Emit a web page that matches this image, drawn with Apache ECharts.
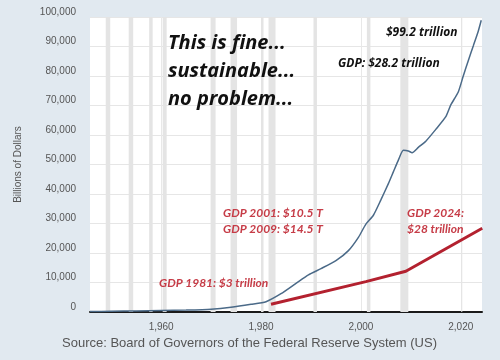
<!DOCTYPE html>
<html>
<head>
<meta charset="utf-8">
<script src="https://cdn.jsdelivr.net/npm/echarts@6/dist/echarts.min.js"></script>
<style>
html,body{margin:0;padding:0;background:#e1e9f0;}
#c{width:500px;height:360px;}
</style>
</head>
<body>
<div id="c"></div>
<script>
// Total debt (billions of dollars)
const debtYears = [1945.75, 1950, 1955, 1960, 1965, 1970, 1974, 1978, 1981, 1984, 1987, 1989.5, 1992, 1995, 1997.5, 1999.5, 2001, 2002.5, 2004, 2005.5, 2006.5, 2007.5, 2008.5, 2009.5, 2010.25, 2011.5, 2013, 2015, 2017, 2018, 2019.5, 2020.5, 2021.5, 2022.5, 2023.5, 2024.1];
const debtValues = [150, 250, 350, 480, 650, 950, 1600, 2600, 3500, 6200, 9700, 12600, 14700, 17400, 20800, 25300, 29800, 32800, 38000, 43500, 47500, 51500, 54800, 54600, 54000, 55800, 57900, 61900, 66200, 70200, 74600, 80000, 85200, 90200, 95200, 98900];
// Hand-drawn GDP line
const gdpYears = [1982, 2001, 2009, 2024.3];
const gdpValues = [2600, 10300, 13800, 28400];
// Recessions (start, end)
const recessions = [[1948.9,1949.8],[1953.5,1954.4],[1957.6,1958.3],[1960.3,1961.1],[1969.9,1970.9],[1973.9,1975.2],[1980.0,1980.5],[1981.5,1982.9],[1990.5,1991.2],[2001.2,2001.9],[2007.9,2009.5],[2020.1,2020.3]];
const xTicks = [1960, 1980, 2000, 2020];

const chart = echarts.init(document.getElementById('c'), null, {renderer:'canvas'});
const blk = {fontFamily:'Open Sans', fontStyle:'italic', fontWeight:'bold'};
const red = {fontFamily:'Lato', fontStyle:'italic', fontWeight:'bold'};
chart.setOption({
  backgroundColor:'#e1e9f0',
  animation:false,
  grid:{left:90, right:18, top:17, bottom:48, show:true, backgroundColor:'#ffffff', borderWidth:0},
  xAxis:{
    type:'value', min:1945.75, max:2024.25,
    axisLine:{show:true, onZero:false, lineStyle:{color:'#1a1a1a', width:2}},
    axisTick:{show:false, customValues:xTicks},
    axisLabel:{customValues:xTicks, color:'#555', fontFamily:'Liberation Sans', fontSize:10, margin:10},
    splitLine:{show:true, lineStyle:{color:'#e8e8e8', width:1}}
  },
  yAxis:{
    type:'value', min:0, max:100000, interval:10000,
    name:'Billions of Dollars', nameLocation:'middle', nameGap:67,
    nameTextStyle:{color:'#555', fontFamily:'Liberation Sans', fontSize:10},
    axisLine:{show:false}, axisTick:{show:false},
    axisLabel:{color:'#555', fontFamily:'Liberation Sans', fontSize:10, margin:14, verticalAlign:'bottom', lineHeight:10,
      formatter:v=>v.toLocaleString('en-US')},
    splitLine:{lineStyle:{color:'#e6e6e6', width:1}}
  },
  series:[
    {type:'line', data:[], silent:true,
     markArea:{silent:true, itemStyle:{color:'#e4e4e4'},
       data:recessions.map(r=>[{xAxis:r[0]},{xAxis:r[1]}])}},
    {type:'line', data:debtYears.map((y,i)=>[y,debtValues[i]]), smooth:0.2, showSymbol:false,
     lineStyle:{color:'#4b6a88', width:1.5}},
    {type:'line', data:gdpYears.map((y,i)=>[y,gdpValues[i]]), showSymbol:false,
     lineStyle:{color:'#b3212f', width:3}}
  ],
  graphic:[
    {type:'text', z:100, left:168, top:29, style:Object.assign({text:'This is fine...\nsustainable...\nno problem...', fill:'#111', fontSize:20, lineHeight:28}, blk)},
    {type:'text', z:100, left:386, top:27, style:Object.assign({text:'$99.2 trillion', fill:'#111', fontSize:12}, blk)},
    {type:'text', z:100, left:338, top:58, style:Object.assign({text:'GDP: $28.2 trillion', fill:'#111', fontSize:12}, blk)},
    {type:'text', z:100, left:223, top:205, style:Object.assign({text:'GDP 2001: $10.5 T\nGDP 2009: $14.5 T', fill:'#c63c47', fontSize:12, lineHeight:16}, red)},
    {type:'text', z:100, left:407, top:205, style:Object.assign({text:'GDP 2024:\n$28 trillion', fill:'#c63c47', fontSize:12, lineHeight:16}, red)},
    {type:'text', z:100, left:159, top:277, style:Object.assign({text:'GDP 1981: $3 trillion', fill:'#c63c47', fontSize:12}, red)},
    {type:'text', z:100, left:62, top:337, style:{text:'Source: Board of Governors of the Federal Reserve System (US)', fill:'#555', fontSize:13, fontFamily:'Liberation Sans'}}
  ]
});
</script>
</body>
</html>
